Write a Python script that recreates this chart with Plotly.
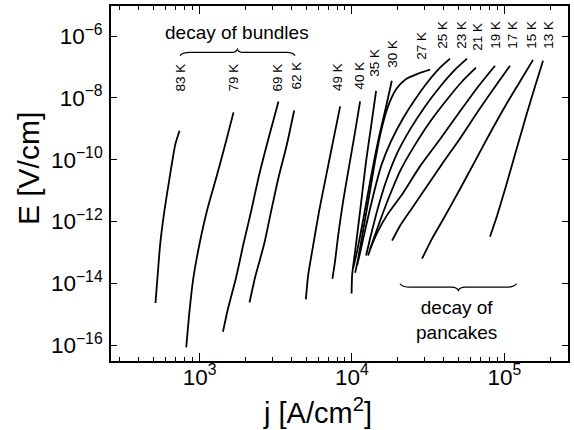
import plotly.graph_objects as go

# ---------------- data ----------------
temps = ["83 K", "79 K", "69 K", "62 K", "49 K", "40 K", "35 K", "30 K",
         "27 K", "25 K", "23 K", "21 K", "19 K", "17 K", "15 K", "13 K"]

j_83 = [514, 530, 552, 588, 636, 693, 739]
E_83 = [2.3e-15, 1.6e-14, 1.9e-13, 2.2e-12, 2.6e-11, 3.1e-10, 8.7e-10]

j_79 = [818, 860, 913, 1000, 1118, 1287, 1474, 1671]
E_79 = [8.4e-17, 1.3e-15, 1.6e-14, 1.9e-13, 2.2e-12, 2.6e-11, 3.1e-10, 3.4e-9]

j_69 = [1424, 1526, 1741, 1943, 2183, 2437, 2767, 3296]
E_69 = [2.7e-16, 1.3e-15, 1.6e-14, 1.9e-13, 2.2e-12, 2.6e-11, 3.1e-10, 7.7e-9]

j_62 = [2128, 2318, 2657, 2953, 3296, 3743, 4178]
E_62 = [2.4e-15, 1.6e-14, 1.9e-13, 2.2e-12, 2.6e-11, 3.1e-10, 3.9e-9]

j_49 = [4986, 5161, 5568, 6095, 6772, 7527, 8368]
E_49 = [3.0e-15, 1.8e-14, 1.7e-13, 2.2e-12, 3.0e-11, 4.0e-10, 5.3e-9]

j_40 = [7449, 7759, 8119, 8757, 9587, 10500, 11320]
E_40 = [1.4e-14, 5.4e-14, 3.5e-13, 4.6e-12, 6.2e-11, 8.3e-10, 7.7e-9]

j_35 = [9950, 10030, 10500, 11320, 12390, 13360, 14410]
E_35 = [4.7e-15, 1.8e-14, 1.1e-13, 2.2e-12, 9.0e-11, 1.2e-9, 1.7e-8]

j_30 = [10180, 10820, 11840, 13170, 14850, 16760, 18270]
E_30 = [3.0e-14, 1.1e-13, 1.1e-12, 2.0e-11, 4.0e-10, 5.3e-9, 3.6e-8]

j_27 = [10500, 10990, 11830, 12970, 14190, 15520, 17260, 19500, 22340, 27160, 32570]
E_27 = [2.2e-14, 6.3e-14, 5.0e-13, 6.7e-12, 9.0e-11, 8.3e-10, 5.3e-9, 1.9e-8, 3.9e-8, 6.1e-8, 8.2e-8]

j_25 = [10820, 11320, 12390, 13770, 15530, 18070, 21670, 25950, 31620, 37870, 44060]
E_25 = [3.8e-14, 9.8e-14, 7.3e-13, 6.7e-12, 6.2e-11, 4.0e-10, 2.2e-9, 8.9e-9, 3.4e-8, 9.5e-8, 1.86e-7]

j_23 = [12390, 13160, 14630, 16760, 19780, 24090, 30200, 37870, 47530, 56920]
E_23 = [7.9e-14, 2.8e-13, 2.2e-12, 2.0e-11, 1.6e-10, 9.6e-10, 5.3e-9, 2.3e-8, 8.2e-8, 1.86e-7]

j_21 = [12770, 13770, 15300, 17530, 20700, 25570, 32570, 42100, 52810, 65170]
E_21 = [7.9e-14, 2.4e-13, 1.05e-12, 6.2e-12, 4.3e-11, 2.7e-10, 1.7e-9, 8.9e-9, 3.4e-8, 9.5e-8]

j_19 = [13160, 14850, 17260, 21670, 28010, 37870, 51230, 67240, 86930]
E_19 = [1.3e-13, 5.0e-13, 1.8e-12, 8.4e-12, 6.2e-11, 4.6e-10, 3.7e-9, 2.3e-8, 1.1e-7]

j_17 = [18350, 20700, 24090, 30200, 39000, 51230, 67240, 86930, 108900]
E_17 = [2.4e-13, 7.3e-13, 2.2e-12, 1.13e-11, 7.2e-11, 4.9e-10, 3.7e-9, 2.3e-8, 1.1e-7]

j_15 = [28860, 33570, 40840, 51230, 64270, 80550, 101100, 126800, 154300]
E_15 = [6.3e-14, 2.8e-13, 1.5e-12, 1.13e-11, 9.0e-11, 7.2e-10, 5.3e-9, 3.4e-8, 1.7e-7]

j_13 = [80550, 89540, 102600, 119300, 138700, 158900, 179500]
E_13 = [3.2e-13, 1.5e-12, 1.4e-11, 1.9e-10, 2.5e-9, 2.3e-8, 1.6e-7]

curves_j = [j_83, j_79, j_69, j_62, j_49, j_40, j_35, j_30,
            j_27, j_25, j_23, j_21, j_19, j_17, j_15, j_13]
curves_E = [E_83, E_79, E_69, E_62, E_49, E_40, E_35, E_30,
            E_27, E_25, E_23, E_21, E_19, E_17, E_15, E_13]

x_title = "j [A/cm<sup>2</sup>]"
y_title = "E [V/cm]"

# ---------------- layout helpers ----------------
W, H = 574, 430
ML, MR, MT, MB = 111, 6, 4, 69
PW, PH = W - ML - MR, H - MT - MB
FONT = "Liberation Sans, Arial, Helvetica, sans-serif"


def px(x, y):
    return (x - ML) / PW, (H - MB - y) / PH


label_pos = [(181, 76), (234, 76), (278, 76), (297, 74), (337.5, 76), (360, 74),
             (375, 61), (393, 52), (422, 44), (443, 33), (462, 33), (478, 35),
             (496, 33), (513, 33), (532, 33), (549, 33)]

fig = go.Figure()
for name, jj, ee in zip(temps, curves_j, curves_E):
    fig.add_trace(go.Scatter(x=jj, y=ee, mode="lines", name=name,
                             line=dict(color="black", width=1.8, shape="spline", smoothing=0.6),
                             showlegend=False, hoverinfo="skip"))

annotations = []
for name, (lx, ly) in zip(temps, label_pos):
    xp, yp = px(lx, ly)
    annotations.append(dict(x=xp, y=yp, xref="paper", yref="paper", text=name,
                            textangle=-90, showarrow=False, xanchor="center", yanchor="middle",
                            font=dict(size=13.5, color="black", family=FONT)))

xp, yp = px(237, 31)
annotations.append(dict(x=xp, y=yp, xref="paper", yref="paper", text="decay of bundles",
                        showarrow=False, xanchor="center", yanchor="middle",
                        font=dict(size=19, color="black", family=FONT)))
xp, yp = px(456, 320)
annotations.append(dict(x=xp, y=yp, xref="paper", yref="paper", text="decay of<br>pancakes",
                        showarrow=False, xanchor="center", yanchor="middle",
                        font=dict(size=19, color="black", family=FONT)))

xp, yp = px(317, 411)
annotations.append(dict(x=xp, y=yp, xref="paper", yref="paper", text=x_title,
                        showarrow=False, xanchor="center", yanchor="middle",
                        font=dict(size=29, color="black", family=FONT)))
xp, yp = px(28, 168)
annotations.append(dict(x=xp, y=yp, xref="paper", yref="paper", text=y_title, textangle=-90,
                        showarrow=False, xanchor="center", yanchor="middle",
                        font=dict(size=30, color="black", family=FONT)))


def brace_path(pts):
    out = []
    for cmd, coords in pts:
        s = []
        for (a, b) in coords:
            u, v = px(a, b)
            s.append(f"{u:.5f},{v:.5f}")
        out.append(cmd + " " + " ".join(s))
    return " ".join(out)


up_brace = brace_path([
    ("M", [(180, 54)]), ("Q", [(182, 50.7), (190, 50.7)]), ("L", [(232, 50.7)]),
    ("Q", [(236, 50.7), (237.3, 47.5)]), ("Q", [(238.6, 50.7), (243, 50.7)]),
    ("L", [(287, 50.7)]), ("Q", [(293, 50.7), (295, 54)])])
down_brace = brace_path([
    ("M", [(400, 283.3)]), ("Q", [(402, 286.7), (410, 286.7)]), ("L", [(452, 286.7)]),
    ("Q", [(456.5, 286.7), (458.3, 290)]), ("Q", [(460, 286.7), (465, 286.7)]),
    ("L", [(508, 286.7)]), ("Q", [(514, 286.7), (516.7, 283.3)])])

shapes = [dict(type="path", path=p, xref="paper", yref="paper",
               line=dict(color="black", width=1.2)) for p in (up_brace, down_brace)]

fig.update_layout(
    width=W, height=H,
    margin=dict(l=ML, r=MR, t=MT, b=MB),
    paper_bgcolor="white", plot_bgcolor="white",
    font=dict(family=FONT, color="black"),
    annotations=annotations, shapes=shapes,
    xaxis=dict(type="log", range=[2.419, 5.418], dtick=1, exponentformat="power",
               showgrid=False, zeroline=False, showline=True, linecolor="black", linewidth=1.5,
               ticks="inside", ticklen=8, tickwidth=1.2, tickcolor="black", mirror="allticks",
               minor=dict(ticks="inside", ticklen=4, tickwidth=1, tickcolor="black", dtick="D1",
                          showgrid=False),
               tickfont=dict(size=18, family=FONT, color="black"), ticklabelstandoff=-4),
    yaxis=dict(type="log", range=[-16.515, -5.025], dtick=2, tick0=0, exponentformat="power",
               showgrid=False, zeroline=False, showline=True, linecolor="black", linewidth=1.5,
               ticks="inside", ticklen=6, tickwidth=1.2, tickcolor="black", mirror="ticks",
               tickfont=dict(size=18, family=FONT, color="black"), ticklabelstandoff=3),
)

fig.write_html("out.html", config={"displayModeBar": False},
               post_script="document.body.style.margin='0';document.body.style.overflow='hidden';")
